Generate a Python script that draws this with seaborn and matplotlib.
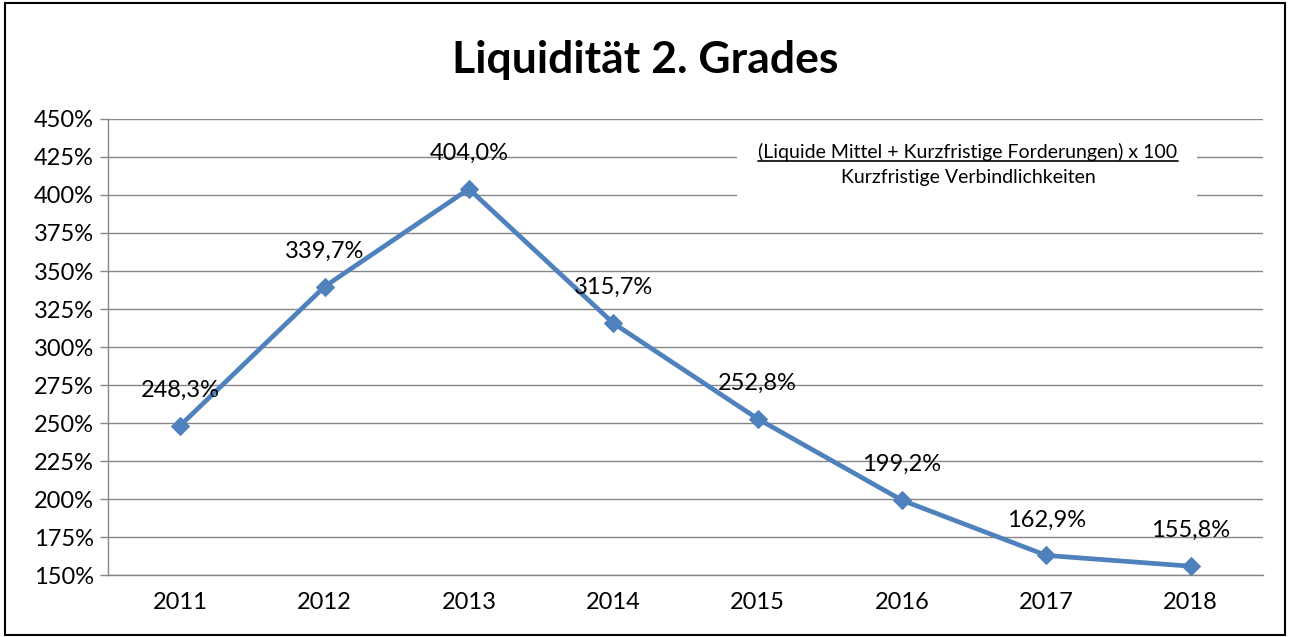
import matplotlib
matplotlib.use('Agg')
import matplotlib.pyplot as plt
import matplotlib.patches as patches
from matplotlib.lines import Line2D
import seaborn as sns
import pandas as pd
import numpy as np

# Data
years = ['2011', '2012', '2013', '2014', '2015', '2016', '2017', '2018']
values = [248.3, 339.7, 404.0, 315.7, 252.8, 199.2, 162.9, 155.8]
y_ticks = [150, 175, 200, 225, 250, 275, 300, 325, 350, 375, 400, 425, 450]
title = 'Liquidität 2. Grades'
formula_top = '(Liquide Mittel + Kurzfristige Forderungen) x 100'
formula_bottom = 'Kurzfristige Verbindlichkeiten'

sns.set_style('white')
plt.rcParams['font.family'] = ['Lato', 'DejaVu Sans']
plt.rcParams['text.color'] = 'black'
plt.rcParams['xtick.labelcolor'] = 'black'
plt.rcParams['ytick.labelcolor'] = 'black'

df = pd.DataFrame({'pos': np.arange(len(years)), 'value': values})

fig = plt.figure(figsize=(12.9, 6.37), dpi=100)
ax = fig.add_axes([0.0837, 0.0973, 0.8953, 0.7159])

grid_col = '#868686'
line_col = '#4F81BD'

sns.lineplot(data=df, x='pos', y='value', ax=ax, color=line_col, linewidth=3.4,
             marker='D', markersize=9, markeredgecolor=line_col, zorder=3)

ax.set_xlim(-0.5, len(years) - 0.5)
ax.set_ylim(150, 450)
ax.set_yticks(y_ticks)
ax.set_yticklabels([f'{v}%' for v in y_ticks], fontsize=17)
ax.set_xticks(df['pos'])
ax.set_xticklabels(years, fontsize=17)
ax.set_xticks(np.arange(-0.5, len(years), 1.0), minor=True)
ax.tick_params(axis='x', which='major', length=0, pad=12, labelcolor='black')
ax.tick_params(axis='x', which='minor', length=7, width=1, color=grid_col, direction='out')
ax.tick_params(axis='y', which='major', length=6, width=1, color=grid_col, direction='out',
               pad=4, left=True, labelcolor='black')
ax.grid(axis='y', color=grid_col, linewidth=1)
ax.set_axisbelow(True)
ax.set_xlabel('')
ax.set_ylabel('')
for s in ['top', 'right']:
    ax.spines[s].set_visible(False)
for s in ['left', 'bottom']:
    ax.spines[s].set_color(grid_col)
    ax.spines[s].set_linewidth(1)

# data labels
for x, v in zip(df['pos'], values):
    ax.annotate(f'{v:.1f}%'.replace('.', ','), (x, v), xytext=(0, 18),
                textcoords='offset points', ha='center', va='bottom', fontsize=17,
                color='black', zorder=4)

# title
fig.text(0.5, 0.906, title, ha='center', va='center', fontsize=32, fontweight='bold', color='black')

# formula box
box = patches.Rectangle((0.545, 0.82), 0.398, 0.13, transform=ax.transAxes,
                        facecolor='white', edgecolor='none', zorder=2)
ax.add_patch(box)
t1 = ax.text(0.7446, 0.928, formula_top, transform=ax.transAxes, ha='center', va='center',
             fontsize=14, color='black', zorder=3)
ax.text(0.7446, 0.871, formula_bottom, transform=ax.transAxes, ha='center', va='center',
        fontsize=14, color='black', zorder=3)

fig.canvas.draw()
bb = t1.get_window_extent().transformed(fig.transFigure.inverted())
fig.add_artist(Line2D([bb.x0, bb.x1], [bb.y0 - 0.001, bb.y0 - 0.001], color='black', linewidth=1.2))

# outer border
fig.add_artist(patches.Rectangle((0.004, 0.003), 0.992, 0.992, transform=fig.transFigure,
                                 fill=False, edgecolor='black', linewidth=1.5))

fig.savefig('out.png', dpi=100)
